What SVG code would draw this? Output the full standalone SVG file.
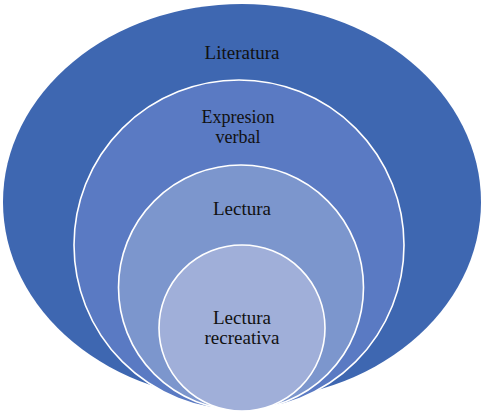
<svg xmlns="http://www.w3.org/2000/svg" width="481" height="413" viewBox="0 0 481 413">
<style>
.ring{stroke:#ffffff;stroke-width:1.6}
.lbl{font-family:'Times New Roman','Liberation Serif',Tinos,'DejaVu Serif',serif;font-size:19px;fill:#111111;text-anchor:middle}
.sm{font-size:18px}
</style>
<rect width="481" height="413" fill="#ffffff"/>
<g id="literatura">
<ellipse cx="242" cy="202" rx="239" ry="198" fill="#3E67B1"/>
<text class="lbl" x="242" y="59">Literatura</text>
</g>
<g id="expresion-verbal">
<circle class="ring" cx="239" cy="245" r="165" fill="#5A7AC3"/>
<text class="lbl sm" x="238" y="123"><tspan x="238">Expresion</tspan><tspan x="238" dy="19.5">verbal</tspan></text>
</g>
<g id="lectura">
<circle class="ring" cx="241" cy="287.5" r="122.5" fill="#7C96CD"/>
<text class="lbl" x="242" y="215">Lectura</text>
</g>
<g id="lectura-recreativa">
<circle class="ring" cx="242" cy="328" r="83" fill="#A0AFD9"/>
<text class="lbl" x="242" y="324"><tspan x="242">Lectura</tspan><tspan x="242" dy="20">recreativa</tspan></text>
</g>
<g id="connectors"></g>
</svg>
